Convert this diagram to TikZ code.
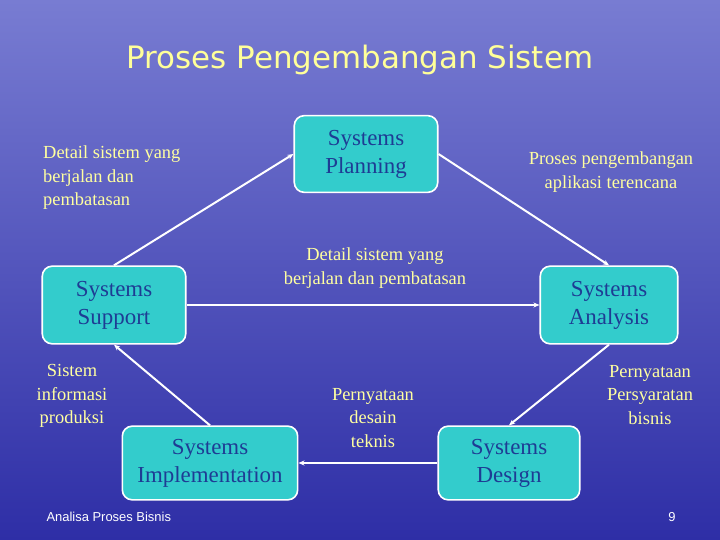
\documentclass[tikz,border=0pt]{standalone}
\usepackage{fontspec}
\setmainfont{Liberation Serif}
\newfontfamily\titlefont{DejaVu Sans}
\newfontfamily\footfont{Liberation Sans}
\usetikzlibrary{arrows.meta}

\definecolor{boxcyan}{RGB}{51,204,204}
\definecolor{boxtext}{RGB}{30,60,148}
\definecolor{labelyellow}{RGB}{255,255,160}
\definecolor{seatop}{RGB}{120,124,210}
\definecolor{seamid}{RGB}{70,72,186}
\definecolor{seabottom}{RGB}{46,46,166}

\tikzset{
	phase/.style={draw=white, line width=1.6pt, fill=boxcyan, rounded corners=10,
		text=boxtext, align=center, inner sep=0pt, font=\fontsize{23}{28}\selectfont},
	flow/.style={draw=white, line width=2pt, -{Stealth[length=6pt, width=5pt]}},
	note/.style={text=labelyellow, font=\fontsize{18.5}{23.5}\selectfont, inner sep=0pt}
}

\begin{document}
\begin{tikzpicture}[x=1bp, y=-1bp]
	\def\W{720}	% slide width
	\def\H{540}	% slide height

	% Background
	\useasboundingbox (0, 0) rectangle (\W, \H);
	\shade[top color=seatop, middle color=seamid, bottom color=seabottom] (0, 0) rectangle (\W, \H);

	% Title
	\node[text={rgb,255:red,255;green,255;blue,153}, font=\titlefont\fontsize{31}{36}\selectfont]
		(title) at (360, 60) {Proses Pengembangan Sistem};

	% Phases
	\node[phase, minimum width=144, minimum height=77] (plan) at (366, 154) {Systems\\Planning};
	\node[phase, minimum width=138, minimum height=78] (anal) at (609, 305) {Systems\\Analysis};
	\node[phase, minimum width=142, minimum height=74] (desg) at (509, 463) {Systems\\Design};
	\node[phase, minimum width=176, minimum height=74] (impl) at (210, 463) {Systems\\Implementation};
	\node[phase, minimum width=144, minimum height=78] (supp) at (114, 305) {Systems\\Support};

	% Connectors
	\draw[flow] (plan.east) -- (anal.north);
	\draw[flow] (anal.south) -- (desg.north);
	\draw[flow] (desg.west) -- (impl.east);
	\draw[flow] (impl.north) -- (supp.south);
	\draw[flow] (supp.north) -- (plan.west);
	\draw[flow] (supp.east) -- (anal.west);

	% Labels
	\node[note, align=left, anchor=north west] (lsupplan) at (43, 146)
		{Detail sistem yang\\berjalan dan\\pembatasan};
	\node[note, align=center] (lplananal) at (611, 172) {Proses pengembangan\\aplikasi terencana};
	\node[note, align=center] (lsupanal) at (375, 268) {Detail sistem yang\\berjalan dan pembatasan};
	\node[note, align=center] (limplsup) at (72, 396) {Sistem\\informasi\\produksi};
	\node[note, align=center] (ldesimpl) at (373, 418) {Pernyataan\\desain\\teknis};
	\node[note, align=center] (lanaldes) at (650, 395) {Pernyataan\\Persyaratan\\bisnis};

	% Footer
	\node[white, anchor=west, font=\footfont\fontsize{13}{15}\selectfont] (foot) at (43, 517)
		{Analisa Proses Bisnis};
	\node[white, font=\footfont\fontsize{13}{15}\selectfont] (page) at (672, 517) {9};
\end{tikzpicture}
\end{document}
